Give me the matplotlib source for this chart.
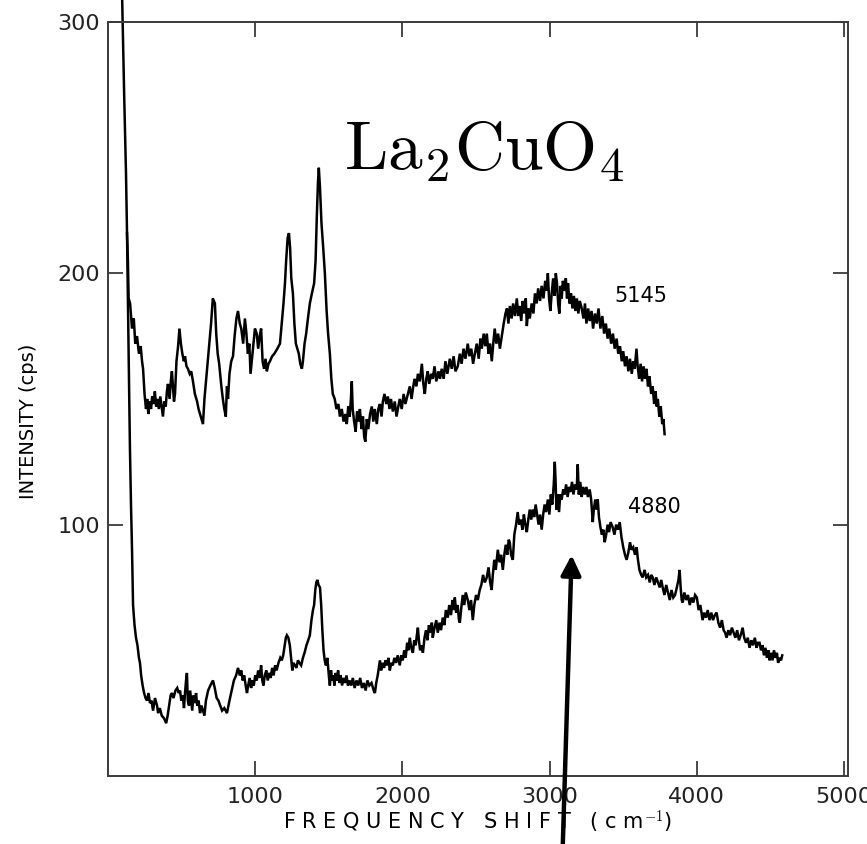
import numpy as np
import matplotlib
matplotlib.use("Agg")
import matplotlib.pyplot as plt

plt.rcParams["mathtext.fontset"] = "cm"

# Raman spectra of La2CuO4: (shift cm^-1, intensity cps)
spec_5145 = np.array([
    (129, 216), (135, 205), (140, 190), (150, 188), (163, 178), (175, 182), (185, 172), (197, 175),
    (210, 168), (222, 171), (231, 165), (238, 162), (248, 152), (258, 146), (266, 150), (274, 144),
    (282, 149), (292, 146), (300, 151), (310, 148), (318, 153), (327, 147), (336, 150), (345, 146),
    (355, 151), (364, 147), (373, 143), (382, 149), (392, 147), (400, 153), (407, 156), (418, 150),
    (428, 158), (434, 161), (441, 155), (448, 149), (455, 152), (465, 165), (476, 171), (485, 178),
    (495, 172), (505, 168), (515, 165), (523, 167), (533, 163), (543, 162), (555, 160), (565, 161),
    (577, 157), (590, 152), (605, 149), (615, 146), (625, 144), (635, 142), (645, 140), (655, 150),
    (670, 160), (685, 170), (700, 180), (712, 190), (726, 188), (735, 176), (745, 168), (755, 164),
    (770, 155), (780, 150), (790, 146), (800, 143), (808, 155), (815, 150), (825, 160), (837, 165),
    (849, 167), (860, 175), (872, 182), (883, 185), (895, 180), (905, 178), (918, 172), (930, 182),
    (940, 176), (950, 168), (960, 172), (968, 160), (978, 166), (988, 172), (998, 178), (1010, 176),
    (1020, 170), (1030, 175), (1040, 178), (1050, 165), (1060, 162), (1070, 166), (1079, 161),
    (1090, 164), (1100, 165), (1115, 167), (1130, 168), (1150, 170), (1168, 172), (1180, 180),
    (1192, 188), (1202, 196), (1210, 205), (1220, 214), (1229, 216), (1237, 210), (1245, 198),
    (1256, 192), (1266, 180), (1276, 172), (1286, 170), (1296, 168), (1306, 164), (1317, 162),
    (1324, 165), (1335, 172), (1346, 176), (1358, 182), (1371, 188), (1385, 192), (1400, 196),
    (1410, 205), (1418, 222), (1426, 236), (1432, 242), (1440, 234), (1450, 220), (1462, 210),
    (1473, 200), (1485, 185), (1495, 176), (1507, 168), (1517, 158), (1527, 152), (1540, 150),
    (1552, 146), (1565, 148), (1575, 143), (1588, 146), (1600, 141), (1612, 144), (1622, 140),
    (1632, 147), (1642, 143), (1650, 150), (1656, 157), (1662, 146), (1672, 141), (1682, 137),
    (1692, 145), (1702, 141), (1711, 146), (1722, 138), (1732, 143), (1740, 135), (1748, 133),
    (1758, 142), (1768, 138), (1780, 144), (1792, 147), (1802, 141), (1812, 146), (1826, 140),
    (1836, 146), (1847, 148), (1858, 143), (1867, 149), (1878, 152), (1890, 148), (1901, 151),
    (1912, 146), (1922, 150), (1935, 145), (1948, 149), (1960, 143), (1972, 147), (1982, 150),
    (1995, 146), (2008, 152), (2020, 148), (2037, 152), (2050, 155), (2062, 150), (2071, 154),
    (2082, 158), (2095, 155), (2105, 160), (2118, 157), (2132, 164), (2142, 156), (2152, 152),
    (2162, 158), (2172, 161), (2182, 156), (2195, 160), (2206, 158), (2218, 163), (2230, 157),
    (2245, 161), (2255, 158), (2267, 162), (2280, 158), (2292, 165), (2305, 160), (2322, 166),
    (2335, 162), (2348, 167), (2360, 161), (2376, 163), (2390, 168), (2402, 164), (2415, 170),
    (2428, 166), (2444, 172), (2455, 167), (2468, 170), (2480, 164), (2492, 168), (2505, 172),
    (2518, 166), (2530, 174), (2539, 170), (2552, 176), (2563, 171), (2573, 176), (2585, 168),
    (2595, 172), (2607, 165), (2617, 172), (2627, 178), (2638, 172), (2650, 176), (2662, 170),
    (2675, 175), (2688, 180), (2700, 184), (2710, 186), (2720, 180), (2730, 187), (2742, 182),
    (2752, 188), (2765, 183), (2777, 190), (2787, 183), (2797, 187), (2807, 181), (2817, 189),
    (2827, 184), (2838, 190), (2845, 179), (2855, 186), (2865, 182), (2878, 188), (2890, 184),
    (2900, 192), (2912, 188), (2922, 194), (2935, 189), (2946, 195), (2958, 190), (2970, 197),
    (2980, 193), (2988, 200), (2996, 190), (3005, 185), (3014, 192), (3024, 198), (3034, 191),
    (3042, 200), (3050, 196), (3058, 188), (3066, 184), (3075, 195), (3082, 190), (3090, 197),
    (3100, 193), (3110, 198), (3118, 190), (3125, 196), (3135, 188), (3145, 192), (3155, 186),
    (3165, 191), (3175, 185), (3185, 190), (3195, 184), (3205, 189), (3218, 186), (3230, 182),
    (3240, 188), (3250, 180), (3262, 186), (3272, 181), (3285, 185), (3295, 178), (3308, 184),
    (3320, 180), (3332, 186), (3345, 178), (3358, 183), (3370, 176), (3382, 180), (3394, 174),
    (3405, 178), (3418, 172), (3430, 176), (3442, 170), (3455, 174), (3466, 168), (3478, 171),
    (3490, 165), (3500, 169), (3512, 163), (3523, 167), (3535, 161), (3546, 166), (3558, 160),
    (3568, 165), (3578, 162), (3590, 170), (3598, 163), (3608, 158), (3618, 164), (3628, 157),
    (3638, 163), (3648, 158), (3658, 162), (3668, 155), (3678, 159), (3690, 152), (3700, 155),
    (3710, 148), (3720, 153), (3727, 147), (3735, 150), (3745, 143), (3755, 147), (3765, 140),
    (3773, 142), (3781, 136),
])

spec_4880 = np.array([
    (95, 312), (110, 270), (122, 240), (129, 216), (137, 180), (143, 155), (149, 130), (156, 108),
    (163, 90), (170, 68), (180, 60), (190, 55), (200, 52), (210, 47), (217, 45), (225, 40),
    (235, 36), (245, 33), (255, 31), (265, 30), (275, 33), (285, 29), (295, 30), (306, 26),
    (319, 31), (333, 28), (340, 25), (352, 27), (365, 24), (380, 23), (395, 21), (405, 24),
    (415, 28), (425, 32), (434, 33), (445, 31), (458, 34), (470, 35), (480, 33), (489, 34),
    (498, 30), (508, 32), (516, 27), (523, 33), (530, 38), (536, 41), (542, 30), (550, 28),
    (558, 34), (565, 30), (572, 26), (580, 32), (590, 29), (598, 33), (606, 28), (615, 30),
    (625, 25), (635, 28), (645, 26), (655, 24), (665, 30), (680, 34), (695, 36), (713, 38),
    (725, 35), (738, 31), (750, 30), (762, 28), (775, 26), (790, 27), (808, 25), (825, 30),
    (840, 34), (855, 38), (870, 40), (883, 43), (895, 40), (905, 42), (915, 38), (925, 40),
    (935, 36), (944, 33), (952, 36), (962, 39), (972, 35), (980, 38), (990, 36), (1000, 40),
    (1010, 38), (1020, 42), (1030, 39), (1040, 44), (1048, 38), (1056, 36), (1065, 40), (1075, 42),
    (1085, 38), (1095, 41), (1105, 39), (1115, 43), (1125, 40), (1135, 44), (1145, 42), (1158, 45),
    (1170, 47), (1180, 46), (1190, 48), (1200, 52), (1208, 55), (1215, 56), (1225, 55), (1235, 52),
    (1245, 46), (1252, 42), (1260, 45), (1270, 44), (1280, 43), (1290, 46), (1300, 45), (1312, 44),
    (1324, 47), (1335, 49), (1348, 52), (1360, 54), (1371, 56), (1382, 62), (1392, 66), (1400, 68),
    (1408, 74), (1415, 77), (1422, 78), (1430, 76), (1440, 75), (1448, 68), (1456, 58), (1464, 50),
    (1472, 46), (1480, 44), (1490, 47), (1500, 40), (1507, 36), (1515, 42), (1522, 38), (1530, 40),
    (1538, 36), (1546, 41), (1555, 38), (1563, 42), (1572, 37), (1580, 40), (1590, 36), (1600, 39),
    (1610, 37), (1620, 40), (1630, 36), (1640, 38), (1652, 36), (1663, 39), (1675, 35), (1688, 38),
    (1700, 36), (1713, 39), (1725, 35), (1738, 37), (1750, 34), (1762, 38), (1775, 36), (1790, 37),
    (1805, 34), (1813, 33), (1822, 37), (1832, 40), (1842, 44), (1847, 46), (1855, 42), (1865, 45),
    (1875, 43), (1885, 46), (1895, 44), (1905, 47), (1914, 42), (1925, 45), (1935, 44), (1945, 47),
    (1957, 45), (1968, 48), (1982, 44), (1992, 48), (2002, 46), (2012, 50), (2022, 47), (2032, 53),
    (2040, 50), (2050, 55), (2060, 51), (2071, 49), (2080, 54), (2090, 52), (2098, 56), (2105, 59),
    (2112, 54), (2120, 50), (2130, 52), (2139, 49), (2150, 55), (2160, 58), (2170, 54), (2180, 60),
    (2190, 57), (2200, 61), (2206, 55), (2218, 59), (2230, 62), (2240, 57), (2252, 61), (2262, 58),
    (2274, 63), (2285, 60), (2295, 66), (2308, 63), (2318, 68), (2330, 64), (2340, 70), (2350, 66),
    (2356, 71), (2365, 65), (2375, 68), (2384, 62), (2390, 61), (2400, 67), (2410, 72), (2420, 68),
    (2430, 73), (2444, 70), (2455, 66), (2466, 70), (2478, 62), (2488, 68), (2500, 72), (2512, 70),
    (2525, 74), (2536, 76), (2548, 80), (2560, 77), (2573, 79), (2585, 83), (2596, 77), (2606, 74),
    (2614, 80), (2624, 86), (2634, 82), (2648, 90), (2660, 85), (2670, 88), (2682, 82), (2692, 88),
    (2702, 92), (2712, 88), (2722, 94), (2729, 93), (2738, 88), (2750, 86), (2760, 96), (2772, 100),
    (2783, 105), (2793, 100), (2805, 102), (2815, 98), (2825, 104), (2835, 100), (2845, 97),
    (2855, 102), (2865, 106), (2875, 102), (2885, 106), (2895, 103), (2905, 108), (2915, 104),
    (2925, 100), (2935, 104), (2946, 98), (2956, 104), (2966, 108), (2976, 105), (2988, 110),
    (2998, 104), (3008, 112), (3018, 108), (3028, 116), (3035, 125), (3040, 118), (3046, 106),
    (3055, 112), (3064, 105), (3072, 112), (3082, 110), (3092, 114), (3102, 112), (3112, 116),
    (3122, 111), (3132, 115), (3142, 113), (3152, 117), (3162, 112), (3172, 116), (3184, 114),
    (3191, 124), (3198, 112), (3208, 117), (3218, 111), (3228, 115), (3240, 112), (3250, 115),
    (3260, 111), (3272, 114), (3282, 110), (3293, 101), (3300, 106), (3310, 110), (3320, 106),
    (3327, 110), (3335, 103), (3345, 99), (3355, 96), (3365, 98), (3374, 93), (3384, 96),
    (3394, 100), (3404, 97), (3414, 101), (3428, 99), (3440, 96), (3452, 100), (3464, 98),
    (3476, 101), (3488, 95), (3500, 91), (3512, 88), (3523, 86), (3535, 89), (3546, 93),
    (3556, 90), (3568, 91), (3580, 88), (3591, 91), (3600, 86), (3610, 82), (3622, 80), (3632, 79),
    (3645, 82), (3656, 79), (3668, 80), (3680, 77), (3690, 80), (3700, 79), (3712, 76), (3724, 79),
    (3736, 77), (3748, 75), (3758, 78), (3768, 75), (3780, 72), (3792, 76), (3804, 73), (3816, 70),
    (3828, 74), (3840, 71), (3852, 72), (3864, 75), (3875, 78), (3883, 82), (3890, 75), (3897, 70),
    (3904, 69), (3915, 73), (3928, 70), (3940, 72), (3952, 68), (3964, 71), (3976, 69), (3988, 72),
    (4000, 71), (4012, 66), (4024, 68), (4039, 62), (4050, 65), (4062, 63), (4074, 66), (4086, 62),
    (4098, 65), (4110, 62), (4122, 64), (4134, 65), (4146, 61), (4158, 59), (4170, 62), (4182, 58),
    (4192, 57), (4202, 55), (4214, 58), (4226, 56), (4238, 59), (4250, 57), (4262, 55), (4274, 58),
    (4286, 54), (4298, 56), (4311, 59), (4322, 55), (4334, 53), (4346, 55), (4358, 51), (4370, 54),
    (4382, 52), (4394, 55), (4406, 51), (4416, 53), (4426, 53), (4436, 50), (4446, 52), (4456, 48),
    (4466, 51), (4476, 47), (4486, 50), (4494, 46), (4504, 49), (4514, 46), (4524, 50), (4534, 47),
    (4544, 49), (4552, 45), (4562, 47), (4572, 46), (4580, 48),
])

x_ticks = [1000, 2000, 3000, 4000, 5000]
y_ticks = [100, 200, 300]
title = r"$\mathrm{La_2CuO_4}$"

fig = plt.figure(figsize=(8.67, 8.44), dpi=100)
ax = fig.add_axes([0.1246, 0.0806, 0.8535, 0.8934])

for spec in (spec_5145, spec_4880):
    ax.plot(spec[:, 0], spec[:, 1], color="black", lw=1.8, clip_on=False,
            solid_joinstyle="miter")

ax.set_xlim(0, 5027)
ax.set_ylim(0, 300)
ax.set_xticks(x_ticks)
ax.set_yticks(y_ticks)

for s in ax.spines.values():
    s.set_color("#3a3a3a")
    s.set_linewidth(1.4)

ax.tick_params(direction="in", length=11, width=1.3, color="#3a3a3a",
               top=True, right=True, labelsize=16)
ax.tick_params(axis="x", pad=8)
ax.tick_params(axis="y", pad=6)
for lab in ax.get_xticklabels() + ax.get_yticklabels():
    lab.set_color("#222222")

ax.set_xlabel(r"F R E Q U E N C Y   S H I F T   ( c m$^{-1}$)", fontsize=15, labelpad=1)
ax.set_ylabel("INTENSITY (cps)", fontsize=14)
ax.yaxis.set_label_coords(-0.095, 0.47)

ax.text(3442, 191, "5145", fontsize=15, va="center", ha="left")
ax.text(3530, 107, "4880", fontsize=15, va="center", ha="left")

ax.text(2559, 249, title, fontsize=50, ha="center", va="center")

ax.annotate("", xy=(3150, 89), xytext=(3089, -28),
            arrowprops=dict(arrowstyle="-|>", lw=3.2, color="black", mutation_scale=30),
            annotation_clip=False)

plt.savefig("out.png", dpi=100)
